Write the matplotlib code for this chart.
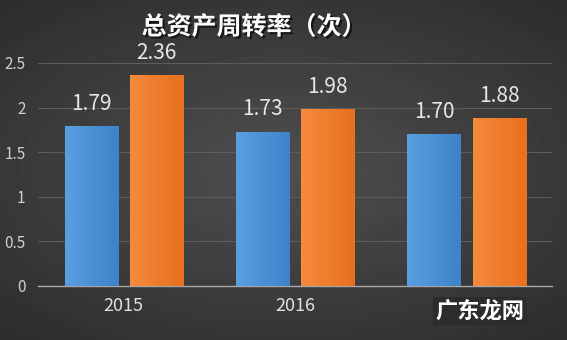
import numpy as np
import matplotlib
matplotlib.use("Agg")
import matplotlib.pyplot as plt
import matplotlib.patheffects as pe

plt.rcParams["font.family"] = ["Noto Sans CJK SC", "DejaVu Sans"]

years = ["2015", "2016", "2017"]
blue_vals = [1.79, 1.73, 1.70]
orange_vals = [2.36, 1.98, 1.88]
title = "总资产周转率（次）"

fig = plt.figure(figsize=(5.67, 3.4), dpi=100)

# radial dark background
bg = fig.add_axes([0, 0, 1, 1], zorder=-10)
yy, xx = np.mgrid[-1:1:340j, -1:1:567j]
r = np.sqrt((xx * 0.9) ** 2 + (yy * 1.0) ** 2)
bg.imshow(0.31 - 0.14 * np.clip(r, 0, 1.4) / 1.4, cmap="gray", vmin=0, vmax=1,
          aspect="auto", extent=[0, 1, 0, 1])
bg.axis("off")

ax = fig.add_axes([0.067, 0.159, 0.907, 0.656])
ax.patch.set_alpha(0)

x = np.arange(len(years))
w = 0.31
off = 0.19

def grad_bars(xs, vals, c_light, c_dark):
    bars = ax.bar(xs, vals, w, color="none", zorder=3)
    grad = np.linspace(0, 1, 50).reshape(1, -1)
    cmap = matplotlib.colors.LinearSegmentedColormap.from_list("g", [c_light, c_dark])
    for b in bars:
        x0, y0 = b.get_x(), b.get_y()
        im = ax.imshow(grad, cmap=cmap, aspect="auto", zorder=3,
                       extent=[x0, x0 + b.get_width(), y0, y0 + b.get_height()])
        im.set_clip_path(b)
    return bars

grad_bars(x - off, blue_vals, "#5a9fe0", "#3f82c9")
grad_bars(x + off, orange_vals, "#f58a3c", "#e8701f")

for xi, v in zip(x - off, blue_vals):
    ax.text(xi, v + 0.13, f"{v:.2f}", ha="center", va="bottom", color="#e6e6e6", fontsize=15)
for xi, v in zip(x + off, orange_vals):
    ax.text(xi, v + 0.13, f"{v:.2f}", ha="center", va="bottom", color="#e6e6e6", fontsize=15)

ax.set_xlim(-0.5, 2.5)
ax.set_ylim(0, 2.5)
ax.set_yticks([0, 0.5, 1, 1.5, 2, 2.5])
ax.set_yticklabels(["0", "0.5", "1", "1.5", "2", "2.5"])
ax.set_xticks(x)
ax.set_xticklabels(years)
ax.tick_params(axis="y", colors="#d0d0d0", labelsize=11, length=0, pad=9)
ax.tick_params(axis="x", colors="#e0e0e0", labelsize=13, length=0, pad=8)
ax.yaxis.grid(True, color="#5c5c5c", linewidth=0.8, zorder=0)
ax.set_axisbelow(True)
for s in ["top", "right", "left"]:
    ax.spines[s].set_visible(False)
ax.spines["bottom"].set_color("#a8a8a8")
ax.spines["bottom"].set_linewidth(1.0)

fig.text(0.448, 0.92, title, ha="center", va="center", color="white",
         fontsize=18, fontweight="bold",
         path_effects=[pe.withSimplePatchShadow(offset=(1.5, -1.5), shadow_rgbFace="black", alpha=0.6)])

# watermark covering the last year label
fig.text(0.847, 0.085, "广东龙网", ha="center", va="center", color="white",
         fontsize=16, fontweight="bold",
         bbox=dict(facecolor="#2c2c2c", edgecolor="none", pad=2))

fig.savefig("out.png", dpi=100)
